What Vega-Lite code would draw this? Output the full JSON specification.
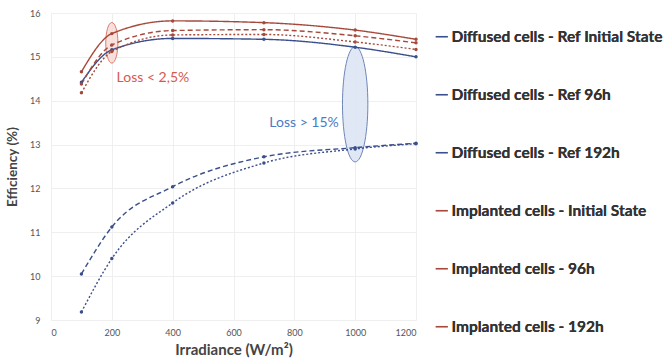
{
  "$schema": "https://vega.github.io/schema/vega-lite/v6.json",
  "autosize": {"type": "none"},
  "width": 365,
  "height": 307,
  "padding": {"left": 51, "top": 13, "right": 250, "bottom": 43},
  "background": "white",
  "config": {
    "view": {"stroke": null},
    "font": "Lato",
    "axis": {
      "grid": true,
      "gridColor": "#efefef",
      "gridWidth": 1,
      "domain": false,
      "ticks": false,
      "labelFont": "Lato",
      "labelFontSize": 9,
      "labelColor": "#555555",
      "titleFont": "Lato",
      "titleFontWeight": "bold",
      "titleColor": "#444444"
    },
    "legend": {
      "orient": "none", "legendX": 383, "legendY": 16, "title": null,
      "symbolType": "stroke", "symbolSize": 150, "symbolStrokeWidth": 1.6,
      "labelFont": "Lato", "labelFontSize": 15.5, "labelFontWeight": "bold", "labelColor": "#333333",
      "labelLimit": 300, "rowPadding": 41, "labelOffset": 2, "padding": 0
    }
  },
  "datasets": {
    "curves": [
      {"series": "Diffused cells - Ref Initial State", "irr": 100, "eff": 14.42},
      {"series": "Diffused cells - Ref Initial State", "irr": 200, "eff": 15.16},
      {"series": "Diffused cells - Ref Initial State", "irr": 400, "eff": 15.42},
      {"series": "Diffused cells - Ref Initial State", "irr": 700, "eff": 15.4},
      {"series": "Diffused cells - Ref Initial State", "irr": 1000, "eff": 15.22},
      {"series": "Diffused cells - Ref Initial State", "irr": 1200, "eff": 15.0},
      {"series": "Diffused cells  - Ref 96h", "irr": 100, "eff": 10.05},
      {"series": "Diffused cells  - Ref 96h", "irr": 200, "eff": 11.12},
      {"series": "Diffused cells  - Ref 96h", "irr": 400, "eff": 12.04},
      {"series": "Diffused cells  - Ref 96h", "irr": 700, "eff": 12.72},
      {"series": "Diffused cells  - Ref 96h", "irr": 1000, "eff": 12.93},
      {"series": "Diffused cells  - Ref 96h", "irr": 1200, "eff": 13.03},
      {"series": "Diffused cells  - Ref 192h", "irr": 100, "eff": 9.18},
      {"series": "Diffused cells  - Ref 192h", "irr": 200, "eff": 10.4},
      {"series": "Diffused cells  - Ref 192h", "irr": 400, "eff": 11.67},
      {"series": "Diffused cells  - Ref 192h", "irr": 700, "eff": 12.58},
      {"series": "Diffused cells  - Ref 192h", "irr": 1000, "eff": 12.9},
      {"series": "Diffused cells  - Ref 192h", "irr": 1200, "eff": 13.02},
      {"series": "Implanted cells - Initial State", "irr": 100, "eff": 14.66},
      {"series": "Implanted cells - Initial State", "irr": 200, "eff": 15.53},
      {"series": "Implanted cells - Initial State", "irr": 400, "eff": 15.82},
      {"series": "Implanted cells - Initial State", "irr": 700, "eff": 15.78},
      {"series": "Implanted cells - Initial State", "irr": 1000, "eff": 15.61},
      {"series": "Implanted cells - Initial State", "irr": 1200, "eff": 15.4},
      {"series": "Implanted cells - 96h", "irr": 100, "eff": 14.38},
      {"series": "Implanted cells - 96h", "irr": 200, "eff": 15.27},
      {"series": "Implanted cells - 96h", "irr": 400, "eff": 15.6},
      {"series": "Implanted cells - 96h", "irr": 700, "eff": 15.62},
      {"series": "Implanted cells - 96h", "irr": 1000, "eff": 15.48},
      {"series": "Implanted cells - 96h", "irr": 1200, "eff": 15.32},
      {"series": "Implanted cells - 192h", "irr": 100, "eff": 14.18},
      {"series": "Implanted cells - 192h", "irr": 200, "eff": 15.12},
      {"series": "Implanted cells - 192h", "irr": 400, "eff": 15.5},
      {"series": "Implanted cells - 192h", "irr": 700, "eff": 15.51},
      {"series": "Implanted cells - 192h", "irr": 1000, "eff": 15.34},
      {"series": "Implanted cells - 192h", "irr": 1200, "eff": 15.17}
    ],
    "ellipses": [
      {"group": "implanted", "irr": 200, "eff": 15.32},
      {"group": "diffused", "irr": 1000, "eff": 13.92}
    ],
    "notes": [
      {"group": "implanted", "label": "Loss < 2,5%", "irr": 335, "eff": 14.52},
      {"group": "diffused", "label": "Loss > 15%", "irr": 832, "eff": 13.5}
    ]
  },
  "encoding": {
    "x": {
      "field": "irr", "type": "quantitative",
      "scale": {"domain": [0, 1200], "nice": false},
      "axis": {"values": [0, 200, 400, 600, 800, 1000, 1200], "format": "d", "title": "Irradiance (W/m²)", "titleFontSize": 15, "labelPadding": 8, "titlePadding": 5}
    },
    "y": {
      "field": "eff", "type": "quantitative",
      "scale": {"domain": [9, 16], "nice": false, "zero": false},
      "axis": {"values": [9, 10, 11, 12, 13, 14, 15, 16], "title": "Efficiency (%)", "titleFontSize": 13.5, "labelPadding": 11, "titlePadding": 10}
    }
  },
  "layer": [
    {
      "data": {"name": "ellipses"},
      "transform": [{"filter": "datum.group === 'implanted'"}],
      "mark": {"type": "point", "shape": "M -0.3 0 A 0.3 1 0 1 0 0.3 0 A 0.3 1 0 1 0 -0.3 0 Z", "size": 1650, "filled": true, "fill": "#f6d9d5", "fillOpacity": 0.8, "stroke": "#e07a6e", "strokeWidth": 1, "opacity": 1}
    },
    {
      "data": {"name": "ellipses"},
      "transform": [{"filter": "datum.group === 'diffused'"}],
      "mark": {"type": "point", "shape": "M -0.22 0 A 0.22 1 0 1 0 0.22 0 A 0.22 1 0 1 0 -0.22 0 Z", "size": 13300, "filled": true, "fill": "#dde6f4", "fillOpacity": 0.9, "stroke": "#6f86b8", "strokeWidth": 1, "opacity": 1}
    },
    {
      "data": {"name": "curves"},
      "mark": {"type": "line", "interpolate": "monotone", "strokeWidth": 1.4, "point": {"filled": true, "size": 12}},
      "encoding": {
        "color": {
          "field": "series", "type": "nominal",
          "scale": {
            "domain": ["Diffused cells - Ref Initial State", "Diffused cells  - Ref 96h", "Diffused cells  - Ref 192h", "Implanted cells - Initial State", "Implanted cells - 96h", "Implanted cells - 192h"],
            "range": ["#3b4f8c", "#3b4f8c", "#3b4f8c", "#a5493b", "#a5493b", "#a5493b"]
          }
        },
        "strokeDash": {
          "field": "series", "type": "nominal",
          "scale": {
            "domain": ["Diffused cells - Ref Initial State", "Diffused cells  - Ref 96h", "Diffused cells  - Ref 192h", "Implanted cells - Initial State", "Implanted cells - 96h", "Implanted cells - 192h"],
            "range": [[1, 0], [5, 3], [2, 2], [1, 0], [5, 3], [2, 2]]
          }
        }
      }
    },
    {
      "data": {"name": "notes"},
      "mark": {"type": "text", "font": "Lato", "fontSize": 14, "align": "center", "baseline": "middle"},
      "encoding": {
        "text": {"field": "label"},
        "color": {"field": "group", "type": "nominal", "scale": {"domain": ["implanted", "diffused"], "range": ["#d45a50", "#4a7bc4"]}, "legend": null}
      }
    }
  ],
  "resolve": {"scale": {"color": "independent"}}
}
